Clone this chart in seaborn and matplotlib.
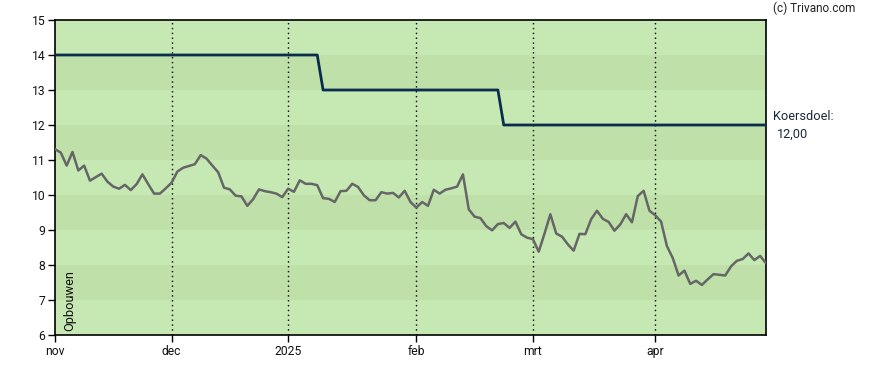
import matplotlib
matplotlib.use("Agg")
import matplotlib.pyplot as plt
import seaborn as sns
import numpy as np
import pandas as pd

# ---- data ----
price = [11.31, 11.21, 10.84, 11.23, 10.70, 10.84, 10.41, 10.51, 10.61, 10.38,
         10.24, 10.18, 10.29, 10.14, 10.31, 10.59, 10.31, 10.04, 10.04, 10.19,
         10.35, 10.67, 10.78, 10.83, 10.88, 11.14, 11.04, 10.84, 10.65, 10.21,
         10.16, 9.98, 9.96, 9.69, 9.88, 10.16, 10.11, 10.08, 10.04, 9.94,
         10.18, 10.09, 10.42, 10.32, 10.32, 10.28, 9.91, 9.89, 9.80, 10.11,
         10.12, 10.32, 10.23, 9.99, 9.85, 9.85, 10.08, 10.04, 10.06, 9.93,
         10.12, 9.80, 9.64, 9.80, 9.69, 10.15, 10.04, 10.15, 10.19, 10.24,
         10.59, 9.59, 9.38, 9.34, 9.11, 8.99, 9.17, 9.20, 9.06, 9.24,
         8.88, 8.78, 8.74, 8.38, 8.90, 9.45, 8.90, 8.81, 8.59, 8.41,
         8.89, 8.88, 9.31, 9.55, 9.32, 9.23, 8.98, 9.16, 9.45, 9.22,
         9.97, 10.12, 9.55, 9.42, 9.24, 8.54, 8.20, 7.70, 7.84, 7.46,
         7.55, 7.43, 7.59, 7.74, 7.72, 7.70, 7.96, 8.12, 8.17, 8.33,
         8.14, 8.26, 8.05]
target = [14.0] * 46 + [13.0] * 31 + [12.0] * 46
tick_pos = [0, 20, 40, 62, 82, 103]
tick_labels = ["nov", "dec", "2025", "feb", "mrt", "apr"]
y_ticks = list(range(6, 16))
target_label = "Koersdoel:"
target_value = "12,00"
axis_note = "Opbouwen"
credit = "(c) Trivano.com"

df = pd.DataFrame({"idx": np.arange(len(price)), "price": price, "target": target})

sns.set_style("white")
plt.rcParams["font.family"] = ["Roboto", "DejaVu Sans"]

fig = plt.figure(figsize=(8.88, 3.70), dpi=100)
ax = fig.add_axes([55 / 888, 35 / 370, 711 / 888, 315 / 370])

# bands
light, dark = "#c6e9b4", "#bfe1a9"
for lo in range(6, 15):
    ax.axhspan(lo, lo + 1, color=dark if lo % 2 == 1 else light, lw=0, zorder=0)

for p in tick_pos[1:]:
    ax.axvline(p, color="black", ls=(0, (1, 2.5)), lw=1.0, zorder=1)

sns.lineplot(data=df, x="idx", y="price", ax=ax, color="#666666", lw=1.8, zorder=3)
sns.lineplot(data=df, x="idx", y="target", ax=ax, color="#0b2d4d", lw=2.0, zorder=4)

ax.set_xlim(0, len(price) - 1)
ax.set_ylim(6, 15)
ax.set_xticks(tick_pos)
ax.set_xticklabels(tick_labels)
ax.set_yticks(y_ticks)
ax.set_xlabel("")
ax.set_ylabel("")
ax.tick_params(axis="both", direction="out", length=5, width=1, color="black",
               labelsize=8.7, labelcolor="#111111", pad=2, bottom=True, left=True)
for s in ax.spines.values():
    s.set_color("black")
    s.set_linewidth(1.2)
ax.grid(False)

ax.text(0.011, 0.012, axis_note, transform=ax.transAxes, rotation=90,
        ha="left", va="bottom", fontsize=9.2, color="#111111")

fig.text(773 / 888, 1 - 8 / 370, credit, ha="left", va="center", fontsize=8.5, color="#222222")
fig.text(773 / 888, 1 - 117 / 370, target_label, ha="left", va="center", fontsize=9.2, color="#1a2a3a")
fig.text(777 / 888, 1 - 134 / 370, target_value, ha="left", va="center", fontsize=9.2, color="#1a2a3a")

fig.savefig("out.png", dpi=100)
